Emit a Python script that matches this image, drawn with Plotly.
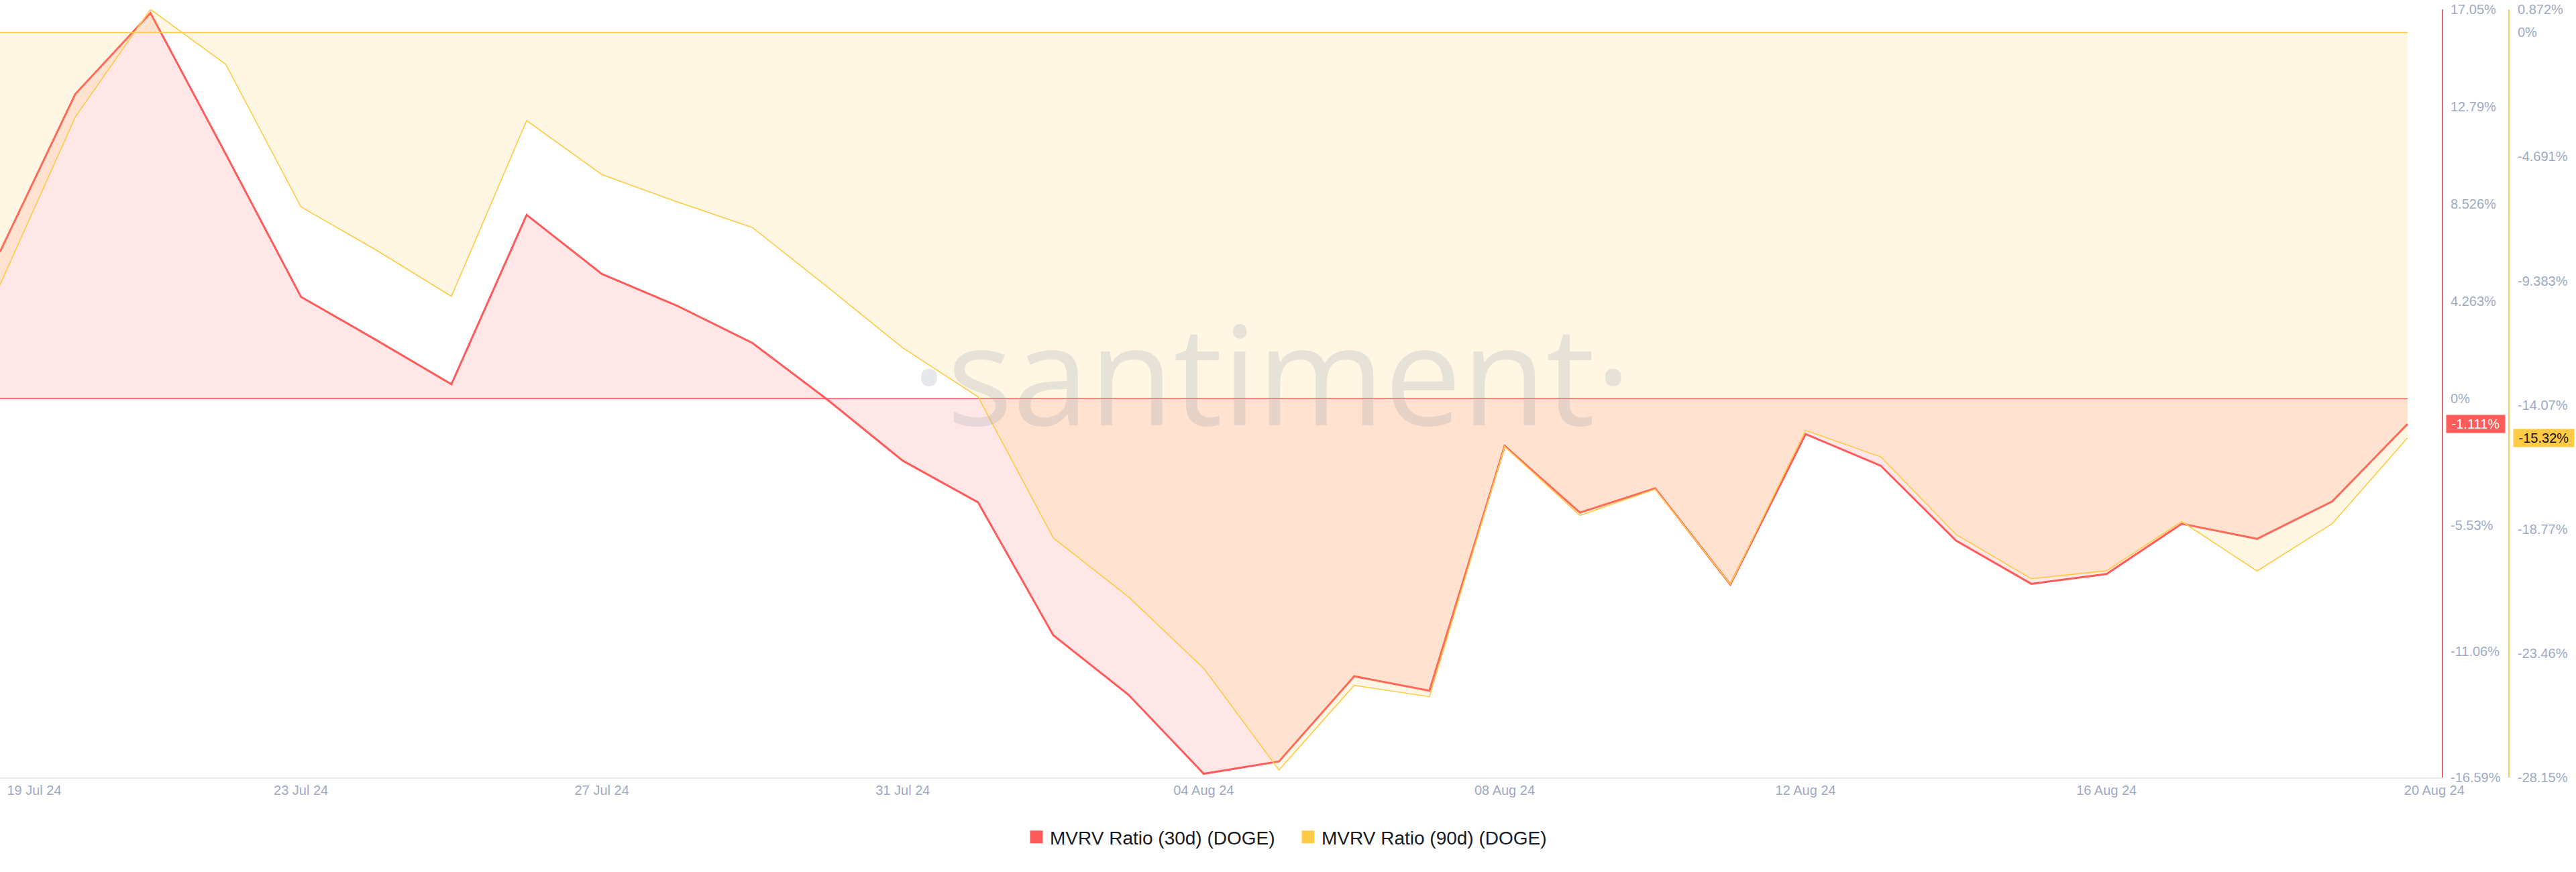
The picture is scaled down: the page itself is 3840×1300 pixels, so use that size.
import pandas as pd
import plotly.graph_objects as go

# ---- data ----
start_date = "2024-07-19"
n_days = 33
mvrv_30d = [6.43, 13.34, 16.89, 10.72, 4.46, 2.57, 0.63, 8.05, 5.46, 4.07, 2.44,
            -0.05, -2.72, -4.54, -10.36, -12.97, -16.43, -15.89, -12.16, -12.79, -2.07,
            -4.99, -3.93, -8.14, -1.55, -2.94, -6.22, -8.11, -7.68, -5.48, -6.14,
            -4.50, -1.111]
mvrv_90d = [-9.54, -3.20, 0.872, -1.20, -6.59, -8.22, -9.97, -3.33, -5.37, -6.40, -7.37,
            -9.62, -11.92, -13.77, -19.10, -21.33, -24.03, -27.87, -24.67, -25.10, -15.65,
            -18.25, -17.26, -20.85, -15.03, -16.04, -18.97, -20.64, -20.34, -18.48, -20.35,
            -18.56, -15.32]
name_30d = "MVRV Ratio (30d) (DOGE)"
name_90d = "MVRV Ratio (90d) (DOGE)"

y1_range = [-16.59, 17.05]
y1_ticks = [17.05, 12.79, 8.526, 4.263, 0, -5.53, -11.06, -16.59]
y1_text = ["17.05%", "12.79%", "8.526%", "4.263%", "0%", "-5.53%", "-11.06%", "-16.59%"]
y2_range = [-28.15, 0.872]
y2_ticks = [0.872, 0, -4.691, -9.383, -14.07, -18.77, -23.46, -28.15]
y2_text = ["0.872%", "0%", "-4.691%", "-9.383%", "-14.07%", "-18.77%", "-23.46%", "-28.15%"]

x_tick_dates = ["2024-07-19", "2024-07-23", "2024-07-27", "2024-07-31", "2024-08-04",
                "2024-08-08", "2024-08-12", "2024-08-16", "2024-08-20"]
x_tick_text = ["19 Jul 24", "23 Jul 24", "27 Jul 24", "31 Jul 24", "04 Aug 24",
               "08 Aug 24", "12 Aug 24", "16 Aug 24", "20 Aug 24"]

# ---- styles ----
RED = "#ff5b5b"
YEL = "#ffcb47"
LABEL = "#9faac4"
FONT = "Liberation Sans, Arial, sans-serif"

dates = pd.date_range(start_date, periods=n_days, freq="D")

fig = go.Figure()

fig.add_trace(go.Scatter(
    x=dates, y=mvrv_90d, yaxis="y2", mode="lines", fill="tozeroy",
    fillcolor="rgba(255,203,71,0.15)", line=dict(color=YEL, width=1.6),
    showlegend=False, hoverinfo="skip"))
fig.add_trace(go.Scatter(
    x=dates, y=mvrv_30d, yaxis="y", mode="lines", fill="tozeroy",
    fillcolor="rgba(255,91,91,0.15)", line=dict(color=RED, width=3),
    showlegend=False, hoverinfo="skip"))
# zero baselines of both areas
fig.add_trace(go.Scatter(x=[dates[0], dates[-1]], y=[0, 0], yaxis="y2", mode="lines",
                         line=dict(color=YEL, width=1.5), showlegend=False, hoverinfo="skip"))
fig.add_trace(go.Scatter(x=[dates[0], dates[-1]], y=[0, 0], yaxis="y", mode="lines",
                         line=dict(color=RED, width=1.5), showlegend=False, hoverinfo="skip"))
# legend entries
fig.add_trace(go.Scatter(x=[None], y=[None], mode="markers", name=name_30d,
                         marker=dict(symbol="square", size=16, color=RED,
                                     line=dict(color=RED, width=3))))
fig.add_trace(go.Scatter(x=[None], y=[None], mode="markers", name=name_90d,
                         marker=dict(symbol="square", size=16, color=YEL,
                                     line=dict(color=YEL, width=3))))

# geometry
W, H = 3840, 1300
plot_right = 3640
paper_right = 3740
px_per_day = 112.15
range_end = dates[0] + pd.Timedelta(hours=24 * plot_right / px_per_day)
tick_vals = [pd.Timestamp(d) for d in x_tick_dates]
tick_vals[0] = tick_vals[0] + pd.Timedelta(hours=24 * 51 / px_per_day)
tick_vals[-1] = tick_vals[-1] + pd.Timedelta(hours=24 * 40 / px_per_day)

fig.update_layout(
    width=W, height=H,
    margin=dict(l=0, r=W - paper_right, t=14, b=141, autoexpand=False),
    paper_bgcolor="white", plot_bgcolor="white",
    font=dict(family=FONT, size=20, color=LABEL),
    xaxis=dict(domain=[0, plot_right / paper_right], range=[dates[0], range_end],
               showgrid=False, zeroline=False, showline=True, linecolor="#e8e9ee",
               linewidth=2, tickvals=tick_vals, ticktext=x_tick_text, ticks="",
               ticklabelstandoff=0, tickfont=dict(size=20, color=LABEL)),
    yaxis=dict(range=y1_range, side="right", anchor="x", showgrid=False, zeroline=False,
               showline=True, linecolor="#e86868", linewidth=2,
               tickvals=y1_ticks, ticktext=y1_text, ticks="", ticklabelstandoff=7,
               tickfont=dict(size=20, color=LABEL)),
    yaxis2=dict(range=y2_range, side="right", overlaying="y", anchor="free", position=1,
                showgrid=False, zeroline=False, showline=True, linecolor="#f3cd6a",
                linewidth=2, tickvals=y2_ticks, ticktext=y2_text, ticks="",
                ticklabelstandoff=8, tickfont=dict(size=20, color=LABEL)),
    legend=dict(orientation="h", xref="container", yref="container",
                x=1525 / W, y=1 - 1248 / H, xanchor="left", yanchor="middle",
                entrywidth=360, entrywidthmode="pixels",
                font=dict(size=28, color="#181a24", family=FONT), itemclick=False),
    showlegend=True,
)

# watermark
fig.add_annotation(text="·santiment·", xref="paper", yref="paper",
                   x=1895 / paper_right, y=(1159 - 554) / 1145, xanchor="center",
                   yanchor="middle", showarrow=False,
                   font=dict(family="Open Sans, sans-serif", size=205,
                             color="rgba(160,165,180,0.25)"))

# last-value badges
fig.add_annotation(text="&nbsp;%.4g%%&nbsp;" % mvrv_30d[-1], xref="paper", yref="y",
                   x=3646 / paper_right, y=mvrv_30d[-1], xanchor="left", yanchor="middle",
                   showarrow=False, bgcolor=RED, borderpad=2,
                   font=dict(family=FONT, size=20, color="white"))
fig.add_annotation(text="&nbsp;%.4g%%&nbsp;" % mvrv_90d[-1], xref="paper", yref="y2",
                   x=3746 / paper_right, y=mvrv_90d[-1], xanchor="left", yanchor="middle",
                   showarrow=False, bgcolor=YEL, borderpad=2,
                   font=dict(family=FONT, size=20, color="#111111"))

fig.write_html("out.html", config={"displayModeBar": False},
               post_script="document.body.style.margin='0';")
